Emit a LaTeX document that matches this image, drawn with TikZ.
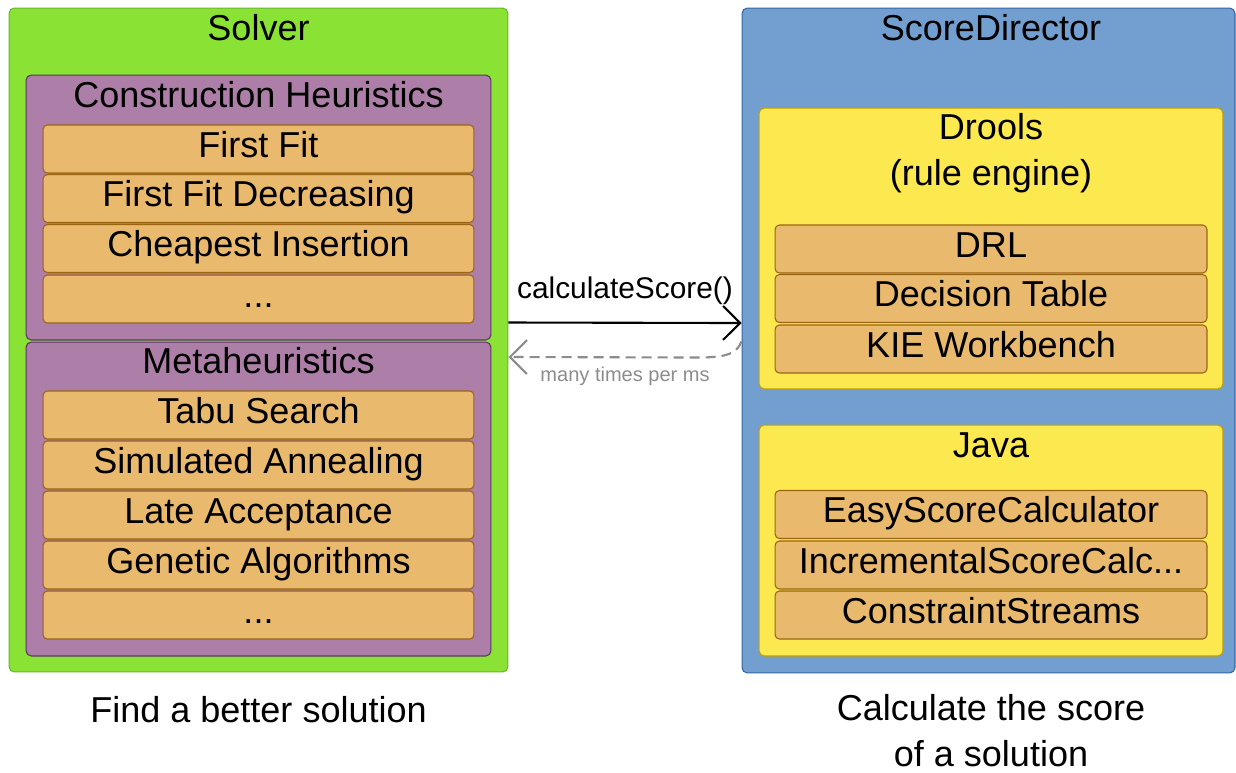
\documentclass[tikz,border=0pt]{standalone}
\usepackage{fontspec}
\setmainfont{Liberation Sans}
\usetikzlibrary{arrows.meta}

\definecolor{solverfill}{HTML}{8AE234}
\definecolor{solverline}{HTML}{6AB82A}
\definecolor{groupfill}{HTML}{AD7FA8}
\definecolor{groupline}{HTML}{5C3566}
\definecolor{itemfill}{HTML}{E9B96E}
\definecolor{itemline}{HTML}{9A6412}
\definecolor{directorfill}{HTML}{729FCF}
\definecolor{directorline}{HTML}{3465A4}
\definecolor{enginefill}{HTML}{FCE94F}
\definecolor{engineline}{HTML}{C4A000}
\definecolor{callgray}{HTML}{8C8C8C}

\begin{document}
\begin{tikzpicture}[x=0.02cm,y=-0.02cm,line width=0.6pt,
  font=\fontsize{20.5}{25}\selectfont,
  box/.style={rounded corners=3pt,inner sep=0pt},
  item/.style={box,rounded corners=2.5pt,draw=itemline,fill=itemfill,minimum width=8.62cm,
    minimum height=0.96cm,text height=0.56cm,text depth=0.24cm},
  ttl/.style={anchor=base},
  call/.style={-{Straight Barb[length=3.4mm,width=6.8mm]},line width=1.2pt},
  ret/.style={call,callgray,dash pattern=on 0.2cm off 0.12cm}]
  \useasboundingbox (0,0) rectangle (1236,772);
  % --- solver ---
  \node[box,draw=solverline,fill=solverfill,minimum width=9.98cm,minimum height=13.28cm] (solver) at (258.5,340){};
  \node[ttl] (solvername) at (258.5,40){Solver};
  \node[box,draw=groupline,fill=groupfill,minimum width=9.3cm,minimum height=5.3cm] (ch) at (258.5,207.5){};
  \node[ttl] (chname) at (258.5,107){Construction Heuristics};
  \node[item] (ff) at (258.5,149){First Fit};
  \node[item] (ffd) at (258.5,198.5){First Fit Decreasing};
  \node[item] (ci) at (258.5,248.5){Cheapest Insertion};
  \node[item] (chmore) at (258.5,299){...};
  \node[box,draw=groupline,fill=groupfill,minimum width=9.3cm,minimum height=6.28cm] (mh) at (258.5,499){};
  \node[ttl] (mhname) at (258.5,373){Metaheuristics};
  \node[item] (ts) at (258.5,415){Tabu Search};
  \node[item] (sa) at (258.5,465){Simulated Annealing};
  \node[item] (la) at (258.5,515){Late Acceptance};
  \node[item] (ga) at (258.5,565){Genetic Algorithms};
  \node[item] (mhmore) at (258.5,615){...};
  \node[ttl] (solvercap) at (258.5,722){Find a better solution};
  % --- score director ---
  \node[box,draw=directorline,fill=directorfill,minimum width=9.86cm,minimum height=13.3cm] (score) at (988.5,340.5){};
  \node[ttl] (scorename) at (991,40){ScoreDirector};
  \node[box,draw=engineline,fill=enginefill,minimum width=9.28cm,minimum height=5.62cm] (drools) at (991,248.5){};
  \node[ttl,align=center] (droolsname) at (991,185){Drools\\[0.04cm](rule engine)};
  \node[item,minimum width=8.64cm] (drl) at (991,249){DRL};
  \node[item,minimum width=8.64cm] (dt) at (991,298.5){Decision Table};
  \node[item,minimum width=8.64cm] (kie) at (991,349){KIE Workbench};
  \node[box,draw=engineline,fill=enginefill,minimum width=9.28cm,minimum height=4.62cm] (java) at (991,540.5){};
  \node[ttl] (javaname) at (991,457){Java};
  \node[item,minimum width=8.64cm] (easy) at (991,514.5){EasyScoreCalculator};
  \node[item,minimum width=8.64cm] (incr) at (991,565){IncrementalScoreCalc...};
  \node[item,minimum width=8.64cm] (cs) at (991,615){ConstraintStreams};
  \node[ttl,align=center,inner ysep=0pt] (scorecap) at (991,766){Calculate the score\\[0.04cm]of a solution};
  % --- calls ---
  \draw[call] ([yshift=0.35cm]solver.east) -- ([yshift=0.35cm]score.west)
    node[midway,above=0.22cm,font=\fontsize{17}{20}\selectfont] (calllabel){calculateScore()};
  \draw[ret] ([yshift=-0.02cm]score.west) .. controls +(-0.1cm,-0.28cm) and +(0.5cm,0cm) ..
    ([xshift=-0.9cm,yshift=-0.34cm]score.west) -- ([yshift=-0.34cm]solver.east)
    node[pos=0.38,below=0.06cm,callgray,font=\fontsize{11.4}{14}\selectfont] (retlabel){many times per ms};
\end{tikzpicture}
\end{document}
